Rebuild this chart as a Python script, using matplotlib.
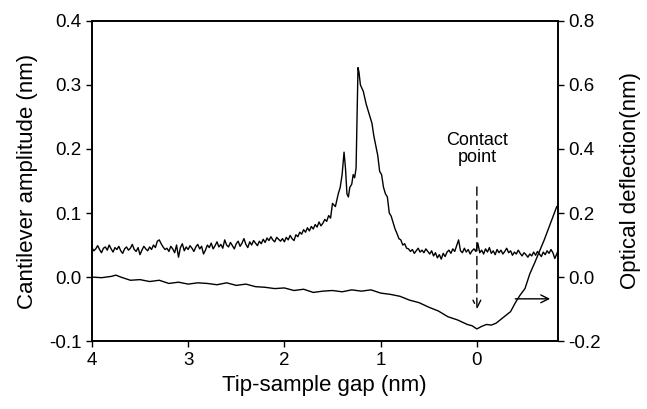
import numpy as np
import matplotlib
matplotlib.use('Agg')
import matplotlib.pyplot as plt

plt.rcParams['font.family'] = ['Liberation Sans', 'DejaVu Sans']

# cantilever amplitude (nm), far region: gap 4.00 -> 1.52 nm every 0.02 nm
amp_far = [0.046, 0.041, 0.044, 0.049, 0.043, 0.038, 0.045, 0.047, 0.042, 0.050,
           0.044, 0.039, 0.046, 0.043, 0.048, 0.041, 0.037, 0.044, 0.047, 0.042,
           0.045, 0.051, 0.043, 0.040, 0.046, 0.035, 0.042, 0.048, 0.044, 0.041,
           0.047, 0.043, 0.050, 0.046, 0.056, 0.058, 0.052, 0.047, 0.043, 0.045,
           0.040, 0.048, 0.044, 0.038, 0.050, 0.031, 0.046, 0.052, 0.041, 0.047,
           0.043, 0.049, 0.045, 0.040, 0.047, 0.051, 0.044, 0.048, 0.036, 0.042,
           0.050, 0.046, 0.053, 0.044, 0.049, 0.055, 0.047, 0.051, 0.045, 0.058,
           0.050, 0.047, 0.054, 0.049, 0.044, 0.052, 0.056, 0.048, 0.053, 0.060,
           0.051, 0.046, 0.055, 0.050, 0.057, 0.053, 0.049, 0.056, 0.052, 0.059,
           0.054, 0.061, 0.057, 0.063, 0.058, 0.055, 0.062, 0.059, 0.056, 0.060,
           0.055, 0.062, 0.058, 0.065, 0.060, 0.057, 0.066, 0.063, 0.070, 0.067,
           0.074, 0.070, 0.077, 0.072, 0.079, 0.075, 0.082, 0.078, 0.086, 0.080,
           0.084, 0.090, 0.087, 0.096, 0.092]

# resonance peaks
peak_gap = [1.50, 1.47, 1.44, 1.42, 1.40, 1.38, 1.365, 1.35, 1.335, 1.32, 1.30, 1.285,
            1.27, 1.255, 1.245, 1.235, 1.225, 1.21, 1.18, 1.15, 1.12, 1.09, 1.07, 1.05,
            1.03, 1.01, 0.99, 0.97, 0.95, 0.93, 0.91, 0.89, 0.87, 0.85, 0.83, 0.81,
            0.79, 0.77, 0.75, 0.73]
amp_peak = [0.115, 0.110, 0.130, 0.140, 0.160, 0.195, 0.170, 0.130, 0.125, 0.140, 0.145, 0.160,
            0.155, 0.170, 0.250, 0.327, 0.320, 0.300, 0.290, 0.270, 0.255, 0.240, 0.220, 0.205,
            0.190, 0.165, 0.160, 0.140, 0.130, 0.125, 0.100, 0.095, 0.085, 0.075, 0.068, 0.060,
            0.058, 0.050, 0.052, 0.045]

# near region: gap 0.71 -> -0.83 nm every 0.02 nm, then last point at -0.84
amp_near = [0.044, 0.040, 0.043, 0.037, 0.041, 0.045, 0.039, 0.042, 0.038, 0.044,
            0.040, 0.036, 0.041, 0.033, 0.038, 0.030, 0.035, 0.028, 0.037, 0.032,
            0.039, 0.042, 0.037, 0.044, 0.040, 0.049, 0.058, 0.041, 0.038, 0.045,
            0.039, 0.043, 0.036, 0.041, 0.044, 0.040, 0.053, 0.038, 0.042, 0.036,
            0.044, 0.039, 0.046, 0.037, 0.041, 0.035, 0.043, 0.038, 0.042, 0.036,
            0.040, 0.045, 0.038, 0.041, 0.034, 0.039, 0.036, 0.042, 0.037, 0.033,
            0.038, 0.035, 0.031, 0.036, 0.033, 0.039, 0.034, 0.040, 0.036, 0.032,
            0.039, 0.035, 0.041, 0.037, 0.043, 0.038, 0.029, 0.036,
            0.040]

gap_far = np.round(np.arange(4.00, 1.51, -0.02), 2)
gap_near = list(np.round(np.arange(0.71, -0.835, -0.02), 2)) + [-0.84]
amp_gap = list(gap_far) + peak_gap + gap_near
amplitude = amp_far + amp_peak + amp_near

# optical deflection (nm), right axis
defl_gap = [4.0, 3.9, 3.8, 3.75, 3.7, 3.6, 3.5, 3.4, 3.3, 3.2, 3.1, 3.0, 2.9, 2.8, 2.7,
            2.6, 2.5, 2.4, 2.3, 2.2, 2.1, 2.0, 1.9, 1.8, 1.7, 1.6, 1.5, 1.4, 1.3, 1.2,
            1.1, 1.0, 0.9, 0.8, 0.7, 0.6, 0.5, 0.4, 0.3, 0.2, 0.1, 0.05, 0.0, -0.05,
            -0.1, -0.15, -0.2, -0.25, -0.3, -0.35, -0.4, -0.45, -0.5, -0.55, -0.6,
            -0.65, -0.7, -0.75, -0.8, -0.83]
deflection = [0.000, -0.002, 0.002, 0.006, 0.000, -0.010, -0.008, -0.014, -0.010, -0.020,
              -0.016, -0.022, -0.018, -0.020, -0.024, -0.018, -0.026, -0.022, -0.030, -0.032,
              -0.036, -0.034, -0.042, -0.038, -0.048, -0.044, -0.042, -0.046, -0.040, -0.044,
              -0.040, -0.050, -0.054, -0.060, -0.072, -0.080, -0.094, -0.106, -0.124, -0.134,
              -0.148, -0.152, -0.162, -0.154, -0.148, -0.150, -0.144, -0.132, -0.120, -0.108,
              -0.080, -0.056, -0.036, 0.010, 0.044, 0.080, 0.116, 0.156, 0.196, 0.220]

fig = plt.figure(figsize=(6.47, 4.09), dpi=100)
ax = fig.add_axes([0.142, 0.166, 0.72, 0.783])
ax2 = ax.twinx()

ax.plot(amp_gap, amplitude, color='black', lw=1.0)
ax2.plot(defl_gap, deflection, color='black', lw=1.0)

ax.set_xlim(4, -0.84)
ax.set_ylim(-0.1, 0.4)
ax2.set_ylim(-0.2, 0.8)
ax.set_xticks([4, 3, 2, 1, 0])
ax.set_yticks([-0.1, 0.0, 0.1, 0.2, 0.3, 0.4])
ax.set_yticklabels(['-0.1', '0.0', '0.1', '0.2', '0.3', '0.4'])
ax2.set_yticks([-0.2, 0.0, 0.2, 0.4, 0.6, 0.8])
ax2.set_yticklabels(['-0.2', '0.0', '0.2', '0.4', '0.6', '0.8'])

for a in (ax, ax2):
    a.tick_params(direction='out', length=4, width=1, labelsize=13.5)
    for s in a.spines.values():
        s.set_linewidth(1.2)

ax.set_xlabel('Tip-sample gap (nm)', fontsize=16, labelpad=5)
ax.set_ylabel('Cantilever amplitude (nm)', fontsize=16, labelpad=8)
ax2.set_ylabel('Optical deflection(nm)', fontsize=16, labelpad=14)

ax.text(0, 0.2, 'Contact\npoint', ha='center', va='center', fontsize=13, linespacing=1.0)
ax.annotate('', xy=(0, -0.055), xytext=(0, 0.145),
            arrowprops=dict(arrowstyle='->', lw=1.0, linestyle=(0, (6, 4)),
                            mutation_scale=14, color='black'))
ax.annotate('', xy=(-0.79, -0.034), xytext=(-0.37, -0.034),
            arrowprops=dict(arrowstyle='->', lw=1.0, mutation_scale=14, color='black'))

fig.savefig('out.png', dpi=100)
